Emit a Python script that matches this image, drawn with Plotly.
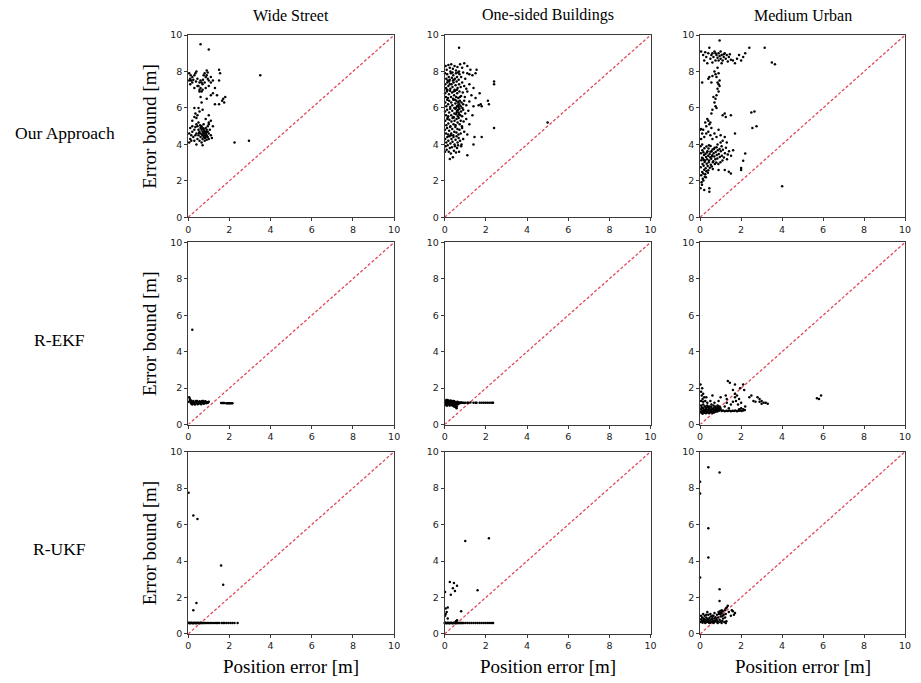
import plotly.graph_objects as go

W, H = 921, 683

col_titles = ["Wide Street", "One-sided Buildings", "Medium Urban"]
row_titles = ["Our Approach", "R-EKF", "R-UKF"]
x_title = "Position error [m]"
y_title = "Error bound [m]"
tick_vals = [0, 2, 4, 6, 8, 10]
diag = [0, 10]

# ---------------- Our Approach ----------------
ws_our = [(0.05,7.9),(0.1,7.6),(0.15,7.5),(0.1,7.3),(0.2,7.4),(0.2,7.7),(0.3,7.8),(0.35,7.9),(0.4,8.0),(0.45,7.6),
          (0.5,7.2),(0.55,7.4),(0.6,7.5),(0.6,7.1),(0.65,7.4),(0.7,7.3),(0.75,7.8),(0.8,7.9),(0.85,7.7),(0.9,7.8),
          (0.9,8.05),(0.8,7.4),(0.95,7.6),(1.0,7.5),(1.1,7.4),(1.2,7.5),(1.0,7.2),(0.7,7.0),(0.45,7.2),(0.3,7.1),
          (0.25,7.55),(0.05,7.5),(0.12,7.8),(0.55,7.0),(0.65,6.9),(0.85,7.1),(1.3,7.1),(1.5,7.5),(1.55,7.9),(1.5,8.1),
          (1.1,7.7),(0.72,7.55),(0.95,7.95),(0.38,7.45),
          (0.55,6.9),(0.6,6.6),(0.65,6.3),(0.5,6.0),(0.55,5.8),(0.45,5.6),(0.35,5.7),(0.3,5.5),(0.4,5.45),(0.7,5.9),
          (0.9,6.5),(1.1,6.7),(1.2,6.8),(1.4,6.7),(1.3,6.2),(1.5,6.2),(1.7,6.5),(1.8,6.6),(1.75,6.3),(1.65,6.4),
          (1.0,5.6),(1.1,5.3),(1.0,5.2),(0.85,5.4),(0.2,5.3),(0.3,6.0),
          (0.05,4.6),(0.1,4.9),(0.1,4.3),(0.15,4.5),(0.2,4.7),(0.25,4.4),(0.3,4.2),(0.3,4.8),(0.35,4.5),(0.4,4.0),
          (0.4,4.6),(0.45,5.0),(0.45,4.3),(0.5,4.8),(0.5,4.5),(0.55,4.7),(0.55,4.2),(0.6,4.9),(0.6,4.6),(0.6,4.4),
          (0.65,4.8),(0.65,5.0),(0.65,4.1),(0.7,4.7),(0.7,4.5),(0.7,4.3),(0.7,3.95),(0.75,4.85),(0.75,4.6),(0.75,4.4),
          (0.75,5.1),(0.8,4.7),(0.8,4.5),(0.8,4.2),(0.85,4.9),(0.85,4.6),(0.85,4.4),(0.9,4.8),(0.9,4.5),(0.9,4.25),
          (0.95,4.7),(0.95,4.4),(1.0,4.6),(1.0,4.3),(1.05,4.8),(1.1,4.5),(1.15,4.35),(1.2,5.0),(0.5,5.2),(0.58,5.05),
          (0.62,4.95),(0.68,4.55),(0.78,4.75),(0.82,4.35),(0.72,4.88),(0.52,4.62),(0.88,4.68),(0.2,5.0),(0.15,4.2),
          (0.35,4.95),(0.95,5.0),(1.0,5.1),(0.4,5.1),(0.05,4.1),
          (0.6,9.5),(1.0,9.2),(3.5,7.8),(2.25,4.1),(2.95,4.2)]

osb_our = [(0.05,8.3),(0.1,8.1),(0.18,8.35),(0.25,8.2),(0.32,8.4),(0.4,8.15),(0.48,8.3),(0.55,8.05),(0.62,8.25),(0.75,8.4),
           (0.85,8.2),(0.95,8.45),(1.1,8.3),(1.25,8.1),(1.55,8.1),(0.7,8.0),(0.28,8.0),
           (0.02,7.9),(0.08,7.6),(0.12,7.85),(0.2,7.7),(0.25,7.55),(0.3,7.9),(0.35,7.65),(0.42,7.8),(0.5,7.6),(0.55,7.9),
           (0.6,7.7),(0.68,7.55),(0.72,7.85),(0.8,7.7),(0.9,7.95),(1.0,7.6),(1.1,7.9),(1.2,7.85),(1.35,7.8),(1.5,7.9),
           (0.15,7.5),(0.45,7.55),(0.38,7.95),(0.65,7.95),
           (0.03,7.3),(0.07,7.1),(0.13,7.4),(0.18,7.2),(0.22,7.45),(0.28,7.05),(0.33,7.3),(0.38,7.15),(0.43,7.4),(0.48,7.0),
           (0.53,7.25),(0.58,7.45),(0.63,7.1),(0.7,7.3),(0.78,7.15),(0.85,7.4),(0.95,7.2),(1.05,7.05),(1.2,7.3),(1.4,7.1),
           (0.1,7.0),(0.25,7.3),(0.4,7.5),(0.6,7.0),(2.4,7.3),(2.4,7.45),
           (0.02,6.8),(0.06,6.6),(0.11,6.9),(0.16,6.55),(0.21,6.75),(0.26,6.95),(0.31,6.6),(0.36,6.85),(0.41,6.5),(0.46,6.7),
           (0.51,6.95),(0.56,6.6),(0.61,6.8),(0.66,6.55),(0.72,6.9),(0.8,6.65),(0.88,6.85),(0.98,6.6),(1.1,6.9),(1.3,6.7),
           (1.5,6.55),(1.7,6.8),(0.14,6.98),(0.44,6.9),(0.74,6.6),
           (0.03,6.3),(0.08,6.1),(0.12,6.45),(0.17,6.2),(0.22,6.4),(0.27,6.05),(0.32,6.3),(0.37,6.15),(0.42,6.45),(0.47,6.0),
           (0.52,6.25),(0.57,6.4),(0.6,6.1),(0.64,6.3),(0.68,6.05),(0.71,6.2),(0.74,6.4),(0.78,6.1),(0.82,6.3),(0.86,6.0),
           (0.9,6.2),(0.95,6.4),(1.05,6.15),(1.2,6.35),(1.4,6.1),(1.65,6.15),(1.75,6.2),(1.8,6.1),(2.1,6.4),(2.15,6.2),
           (0.55,6.0),(0.66,6.15),(0.7,6.35),(0.5,6.45),
           (0.02,5.8),(0.07,5.6),(0.12,5.9),(0.17,5.55),(0.22,5.75),(0.27,5.95),(0.32,5.6),(0.37,5.85),(0.42,5.5),(0.47,5.7),
           (0.52,5.95),(0.56,5.65),(0.6,5.85),(0.64,5.55),(0.68,5.75),(0.72,5.95),(0.76,5.6),(0.8,5.8),(0.85,5.55),(0.9,5.9),
           (1.0,5.7),(1.15,5.85),(1.35,5.6),(0.58,5.75),(0.66,5.9),(0.7,5.65),
           (0.03,5.3),(0.08,5.05),(0.13,5.4),(0.18,5.15),(0.23,5.35),(0.28,5.0),(0.33,5.25),(0.38,5.45),(0.43,5.1),(0.48,5.3),
           (0.53,5.05),(0.58,5.4),(0.63,5.2),(0.68,5.45),(0.73,5.1),(0.78,5.3),(0.84,5.0),(0.92,5.25),(1.05,5.4),(1.2,5.1),
           (0.15,5.48),(0.45,5.48),
           (0.02,4.8),(0.07,4.6),(0.12,4.9),(0.17,4.55),(0.22,4.75),(0.27,4.95),(0.32,4.6),(0.37,4.85),(0.42,4.5),(0.47,4.7),
           (0.52,4.95),(0.57,4.65),(0.62,4.85),(0.67,4.55),(0.72,4.8),(0.78,4.6),(0.85,4.9),(0.95,4.7),(1.1,4.55),(2.4,4.9),
           (0.3,4.5),
           (0.03,4.3),(0.08,4.1),(0.13,4.4),(0.18,4.2),(0.23,4.45),(0.28,4.05),(0.33,4.3),(0.38,4.15),(0.43,4.4),(0.48,4.0),
           (0.53,4.25),(0.58,4.45),(0.63,4.1),(0.68,4.35),(0.75,4.2),(0.82,4.0),(0.9,4.3),(1.8,4.4),(1.4,4.0),(1.45,4.4),
           (0.05,3.9),(0.1,3.7),(0.15,3.95),(0.2,3.6),(0.25,3.8),(0.3,3.5),(0.35,3.85),(0.4,3.3),(0.45,3.65),(0.5,3.9),
           (0.55,3.55),(0.6,3.8),(0.7,3.6),(0.8,3.9),(1.1,3.4),(0.25,3.2),(0.02,3.6),(0.65,3.95),
           (0.7,9.3),(5.0,5.2)]

mu_our = [(0.05,9.1),(0.15,8.9),(0.2,8.6),(0.3,8.8),(0.4,9.0),(0.45,9.3),(0.5,8.7),(0.55,8.9),(0.6,9.0),(0.65,8.8),
          (0.7,9.1),(0.75,8.6),(0.8,8.9),(0.85,8.75),(0.9,9.0),(0.95,8.85),(1.0,8.7),(1.0,9.1),(1.05,8.9),(1.1,8.6),
          (1.15,8.8),(1.2,9.0),(1.25,8.7),(1.3,8.9),(1.35,8.55),(1.4,8.8),(1.5,8.65),(1.6,8.6),(1.8,8.7),(1.9,8.9),
          (2.0,8.6),(2.1,8.8),(2.2,9.0),(0.95,9.7),(2.4,9.3),(3.15,9.3),(3.5,8.5),(3.65,8.4),(0.75,9.0),(1.15,8.95),
          (0.9,8.6),(1.45,8.95),(0.35,8.45),(0.6,8.5),(1.05,8.45),(1.7,8.45),(0.25,9.05),
          (0.1,7.4),(0.4,7.6),(0.45,7.7),(0.55,7.4),(0.6,7.75),(0.7,8.0),(0.75,7.85),(0.8,7.7),(0.85,7.4),(0.9,7.3),
          (0.95,7.2),(0.85,7.05),(0.9,6.9),(0.8,6.7),(0.75,6.5),(0.7,6.3),(0.75,6.1),(0.6,5.9),(0.55,5.7),(0.65,6.6),
          (0.8,6.0),(0.85,8.2),(0.95,7.5),(0.9,7.9),
          (0.0,4.8),(0.05,4.85),(0.1,4.6),(0.15,4.8),(0.05,4.3),(0.1,4.0),(0.2,4.4),(0.25,5.2),(0.3,5.0),(0.35,5.4),
          (0.4,5.3),(0.45,5.1),(0.5,5.2),(0.3,4.6),(0.4,4.7),(0.5,4.5),(0.55,4.9),(0.6,4.3),(0.7,4.6),(0.8,4.4),
          (0.9,4.8),(1.0,4.5),(1.1,4.2),(1.2,4.4),(1.3,4.1),(1.0,4.1),(0.85,4.0),(1.5,5.6),(1.2,5.7),(1.25,5.5),
          (1.1,5.6),(1.7,4.6),
          (0.02,3.9),(0.04,3.52),(0.06,3.13),(0.03,2.74),(0.05,2.31),(0.07,1.93),(0.11,3.68),(0.09,3.27),(0.12,2.92),(0.1,2.48),
          (0.13,2.12),(0.09,1.78),(0.16,3.57),(0.14,3.22),(0.17,2.83),(0.15,2.41),(0.16,2.02),(0.21,3.79),(0.19,3.42),(0.22,3.03),
          (0.2,2.61),(0.23,2.22),(0.26,3.48),(0.24,3.12),(0.27,2.69),(0.25,2.36),(0.31,3.88),(0.29,3.31),(0.32,2.94),(0.3,2.53),
          (0.36,3.62),(0.34,3.18),(0.37,2.81),(0.41,3.77),(0.39,3.38),(0.42,3.02),(0.4,2.58),(0.46,3.47),(0.44,3.11),(0.47,2.72),
          (0.51,3.91),(0.49,3.29),(0.52,2.88),(0.56,3.63),(0.54,3.21),(0.57,2.79),(0.61,3.72),(0.59,3.41),(0.62,3.02),(0.66,3.52),
          (0.64,3.08),(0.71,3.82),(0.69,3.33),(0.72,2.92),(0.76,3.58),(0.74,3.19),(0.81,3.42),(0.79,3.01),(0.86,3.68),(0.84,3.22),
          (0.91,3.48),(0.89,2.93),(0.96,3.31),(1.01,3.62),(0.99,3.02),(1.06,3.38),(1.11,3.71),(1.09,3.12),(1.16,3.28),(1.21,3.52),
          (1.26,3.82),(1.31,3.18),(1.41,3.62),(1.51,3.38),(1.61,3.68),(1.2,2.6),(1.4,2.5),(1.5,2.4),(0.9,2.6),(2.0,2.7),
          (2.0,2.6),(2.1,3.1),(2.2,3.5),(0.45,1.6),(0.45,1.4),(0.2,1.5),(0.02,1.6),(0.33,3.55),(0.58,3.35),(0.28,2.2),
          (0.5,3.6),(0.67,3.75),(0.43,3.95),(0.8,3.85),(1.05,3.9),(0.18,3.15),(0.38,2.45),(0.62,2.65),(0.95,3.75),(1.35,3.45),
          (2.5,5.75),(2.65,5.8),(2.55,4.9),(2.75,5.0),(4.0,1.7)]

# ---------------- R-EKF ----------------
ws_ekf = [(0.02,1.25),(0.05,1.5),(0.08,1.4),(0.1,1.3),(0.12,1.2),(0.15,1.15),(0.18,1.25),(0.2,1.1),(0.22,1.2),(0.25,1.3),
          (0.28,1.15),(0.3,1.22),(0.33,1.1),(0.36,1.25),(0.4,1.18),(0.43,1.3),(0.46,1.12),(0.5,1.24),(0.53,1.16),(0.56,1.28),
          (0.6,1.2),(0.63,1.12),(0.66,1.25),(0.7,1.18),(0.73,1.3),(0.76,1.15),(0.8,1.22),(0.84,1.28),(0.88,1.17),(0.92,1.23),
          (0.96,1.2),(1.0,1.26),(0.14,1.32),(0.26,1.2),(0.38,1.3),(0.48,1.15),(0.58,1.22),(0.68,1.3),(0.78,1.25),
          (1.6,1.18),(1.65,1.18),(1.7,1.18),(1.75,1.18),(1.85,1.17),(1.9,1.17),(1.95,1.17),(2.0,1.17),(2.05,1.17),(2.1,1.17),
          (2.15,1.17),(0.2,5.2)]

osb_ekf = [(0.02,1.2),(0.04,1.3),(0.05,1.1),(0.07,1.25),(0.08,1.35),(0.1,1.15),(0.12,1.28),(0.13,1.05),(0.15,1.2),(0.17,1.32),
           (0.18,1.1),(0.2,1.24),(0.22,1.16),(0.23,1.3),(0.25,1.05),(0.27,1.2),(0.28,1.12),(0.3,1.27),(0.32,1.18),(0.34,1.08),
           (0.35,1.3),(0.37,1.22),(0.39,1.14),(0.4,1.25),(0.42,1.05),(0.44,1.18),(0.46,1.28),(0.47,1.1),(0.49,1.2),(0.5,1.02),
           (0.52,1.24),(0.54,1.15),(0.55,0.95),(0.57,1.22),(0.58,0.9),(0.6,1.18),(0.62,1.26),(0.63,1.1),(0.65,1.2),(0.68,1.15),
           (0.7,1.22),(0.72,1.18),(0.75,1.2),(0.78,1.19),(0.8,1.21),(0.03,1.15),(0.09,1.05),(0.14,1.35),(0.19,1.18),(0.24,1.22),
           (0.29,1.33),(0.33,1.2),(0.38,1.05),(0.43,1.3),(0.48,1.17),(0.53,1.08),(0.59,1.0),(0.45,1.0),(0.52,0.98),
           (0.85,1.2),(0.9,1.2),(0.95,1.19),(1.0,1.2),(1.1,1.2),(1.15,1.2),(1.25,1.21),(1.4,1.2),(1.5,1.2),(1.55,1.2),
           (1.7,1.2),(1.8,1.2),(1.9,1.2),(2.0,1.2),(2.1,1.2),(2.2,1.2),(2.3,1.2),(2.35,1.2)]

mu_ekf = [(0.02,0.7),(0.04,0.85),(0.06,0.65),(0.08,0.95),(0.1,0.75),(0.12,0.6),(0.14,0.9),(0.16,0.7),(0.18,0.8),(0.2,0.65),
          (0.22,1.0),(0.24,0.75),(0.26,0.85),(0.28,0.62),(0.3,0.92),(0.32,0.72),(0.34,0.82),(0.36,0.66),(0.38,0.96),(0.4,0.76),
          (0.42,0.86),(0.44,0.63),(0.46,0.9),(0.48,0.7),(0.5,0.8),(0.52,0.68),(0.54,0.98),(0.56,0.74),(0.58,0.84),(0.6,0.64),
          (0.62,0.88),(0.64,0.72),(0.66,0.8),(0.68,0.66),(0.7,0.94),(0.72,0.76),(0.74,0.84),(0.76,0.7),(0.78,0.9),(0.8,0.78),
          (0.82,0.86),(0.84,0.72),(0.86,0.96),(0.88,0.8),(0.9,0.9),(0.92,0.76),(0.94,1.0),(0.96,0.82),(0.98,0.92),(1.0,0.85),
          (0.05,1.05),(0.15,1.1),(0.25,1.0),(0.35,1.05),(0.45,1.0),(0.55,1.1),(0.65,1.05),(0.75,1.0),(0.85,1.05),
          (0.02,2.2),(0.05,1.8),(0.08,1.6),(0.1,2.0),(0.12,1.4),(0.15,1.7),(0.2,1.5),(0.25,1.3),(0.3,1.5),(0.35,1.2),
          (0.5,1.3),(0.6,1.6),(0.7,1.2),(0.9,1.3),(1.0,1.5),(0.05,1.3),(0.15,1.25),
          (1.05,0.75),(1.12,0.78),(1.2,0.74),(1.28,0.76),(1.35,0.75),(1.42,0.78),(1.5,0.74),(1.58,0.76),(1.65,0.75),(1.72,0.77),
          (1.8,0.74),(1.88,0.76),(1.95,0.78),(2.02,0.75),(2.1,0.77),(2.18,0.8),(1.9,0.85),(2.0,0.9),(2.1,0.85),
          (1.35,2.4),(1.45,2.3),(1.3,1.4),(1.3,1.2),(1.25,1.6),(1.2,1.0),(1.4,0.9),(1.6,1.9),(1.7,2.2),(1.7,1.7),
          (1.7,1.5),(1.8,1.6),(1.75,1.3),(1.85,1.1),(1.95,2.0),(2.1,2.2),(2.15,1.9),(1.9,1.4),(1.5,1.1),(1.6,1.25),
          (2.0,1.2),(2.2,1.0),
          (2.4,1.5),(2.5,1.6),(2.6,1.3),(2.7,1.25),(2.8,1.5),(2.9,1.4),(3.0,1.3),(3.1,1.2),(3.2,1.2),(3.3,1.15),
          (3.0,1.15),(2.9,1.25),
          (5.7,1.45),(5.8,1.4),(5.9,1.6)]

# ---------------- R-UKF ----------------
ws_ukf = [(0.0,0.6),(0.03,0.61),(0.06,0.6),(0.09,0.59),(0.12,0.6),(0.15,0.61),(0.18,0.6),(0.21,0.6),(0.24,0.59),(0.27,0.6),
          (0.3,0.61),(0.33,0.6),(0.36,0.6),(0.39,0.59),(0.42,0.6),(0.45,0.61),(0.48,0.6),(0.51,0.6),(0.54,0.59),(0.57,0.6),
          (0.6,0.61),(0.63,0.6),(0.66,0.6),(0.7,0.6),(0.74,0.6),(0.78,0.6),(0.85,0.6),(0.92,0.6),(1.0,0.6),(1.08,0.6),
          (1.15,0.6),(1.25,0.6),(1.35,0.6),(1.42,0.6),(1.5,0.6),(1.62,0.6),(1.7,0.6),(1.75,0.6),(1.85,0.6),(1.95,0.6),
          (2.05,0.6),(2.15,0.6),(2.25,0.6),(2.4,0.6),
          (0.02,7.75),(0.25,6.5),(0.45,6.3),(1.6,3.75),(1.7,2.7),(0.4,1.7),(0.25,1.3)]

osb_ukf = [(0.0,0.6),(0.03,0.61),(0.06,0.6),(0.09,0.59),(0.12,0.6),(0.15,0.61),(0.18,0.6),(0.21,0.6),(0.24,0.59),(0.27,0.6),
           (0.3,0.61),(0.33,0.6),(0.36,0.6),(0.39,0.59),(0.42,0.6),(0.45,0.61),(0.48,0.6),(0.51,0.6),(0.54,0.59),(0.57,0.6),
           (0.6,0.61),(0.63,0.6),(0.66,0.6),(0.7,0.6),(0.74,0.6),(0.78,0.6),(0.82,0.6),(0.86,0.6),(0.9,0.6),(1.0,0.6),
           (1.1,0.6),(1.2,0.6),(1.3,0.6),(1.4,0.6),(1.5,0.6),(1.6,0.6),(1.7,0.6),(1.8,0.6),(1.9,0.6),(2.0,0.6),
           (2.1,0.6),(2.2,0.6),(2.3,0.6),(2.35,0.6),
           (1.0,5.1),(2.15,5.25),(0.25,2.85),(0.45,2.8),(0.6,2.65),(0.4,2.5),(0.5,2.35),(0.3,2.15),(1.6,2.4),(0.02,2.3),
           (0.15,1.45),(0.05,1.4),(0.1,1.2),(0.05,1.1),(0.15,0.85),(0.8,1.25),(0.55,0.7),(0.6,0.75),(0.02,1.0)]

mu_ukf = [(0.02,0.65),(0.05,0.8),(0.08,0.7),(0.1,0.9),(0.12,0.62),(0.15,0.75),(0.18,0.85),(0.2,0.68),(0.22,1.0),(0.25,0.78),
          (0.28,0.64),(0.3,0.9),(0.32,0.72),(0.35,0.82),(0.38,0.66),(0.4,1.05),(0.42,0.76),(0.45,0.88),(0.48,0.62),(0.5,0.7),
          (0.52,0.95),(0.55,0.8),(0.58,0.66),(0.6,0.86),(0.62,0.74),(0.65,1.0),(0.68,0.64),(0.7,0.84),(0.72,0.72),(0.75,0.92),
          (0.78,0.68),(0.8,0.8),(0.82,1.05),(0.85,0.7),(0.88,0.9),(0.9,0.64),(0.92,1.1),(0.95,0.78),(0.98,1.2),(1.0,0.68),
          (1.02,0.95),(1.05,1.15),(1.08,0.72),(1.1,1.25),(1.12,0.85),(1.15,1.05),(1.18,0.66),(1.2,1.3),(1.22,0.9),(1.25,1.1),
          (1.28,0.7),(1.3,1.45),(1.35,1.55),(1.25,1.4),(1.05,1.3),(1.4,1.2),(1.5,1.0),(1.55,1.3),(1.6,1.25),(1.7,1.15),
          (1.65,1.05),(0.3,1.05),(0.15,1.1),(0.05,1.0),(0.35,1.2),(0.5,1.1),(0.7,1.15),(0.6,1.0),(0.25,0.6),(0.45,0.6),
          (0.65,0.6),(0.85,0.6),(1.05,0.6),(1.25,0.6),(0.9,1.2),(1.0,1.1),(1.1,1.0),(0.97,1.25),
          (0.4,9.15),(0.95,8.85),(0.4,5.8),(0.4,4.2),(0.95,2.45),(0.95,1.8),(0.0,8.35),(0.0,7.7),(0.0,3.1)]

panels = [[ws_our, osb_our, mu_our],
          [ws_ekf, osb_ekf, mu_ekf],
          [ws_ukf, osb_ukf, mu_ukf]]

# ---------------- layout geometry (target screen pixels) ----------------
col_px = [(187, 395), (446, 654), (704, 911)]
row_px = [(35, 217), (242, 424), (451, 633)]

# vertical pixel -> paper fraction (measured rendering: ~671 px tall plot area, 6 px offset)
def py(y):
    return 1 - (y - 6) / 671.0

def px(x):
    return x / W

fig = go.Figure()
layout = dict(width=W, height=H, margin=dict(l=0, r=0, t=0, b=0), autosize=False,
              paper_bgcolor="white", plot_bgcolor="white", showlegend=False)

axis_common = dict(range=[0, 10], tickvals=tick_vals, showgrid=False, zeroline=False,
                   showline=True, mirror=True, linecolor="#3a3a3a", linewidth=1,
                   ticks="outside", ticklen=3, tickcolor="#3a3a3a",
                   tickfont=dict(family="DejaVu Sans", size=9.5, color="#222"), fixedrange=True)

annotations = []
k = 0
for r in range(3):
    for c in range(3):
        k += 1
        xs = "x" if k == 1 else f"x{k}"
        ys = "y" if k == 1 else f"y{k}"
        xa = "xaxis" if k == 1 else f"xaxis{k}"
        ya = "yaxis" if k == 1 else f"yaxis{k}"
        x0, x1 = col_px[c]
        y0, y1 = row_px[r]
        layout[xa] = dict(axis_common, domain=[px(x0), px(x1)], anchor=ys)
        layout[ya] = dict(axis_common, domain=[py(y1), py(y0)], anchor=xs)
        pts = panels[r][c]
        fig.add_trace(go.Scatter(x=diag, y=diag, mode="lines", xaxis=xs, yaxis=ys,
                                 line=dict(color="#e0485a", width=1.3, dash="3px,2px"), hoverinfo="skip"))
        fig.add_trace(go.Scatter(x=[p[0] for p in pts], y=[p[1] for p in pts], mode="markers",
                                 xaxis=xs, yaxis=ys, marker=dict(color="black", size=2.5),
                                 cliponaxis=False))

serif = "Liberation Serif"
for c in range(3):
    cx = (col_px[c][0] + col_px[c][1]) / 2
    annotations.append(dict(text=col_titles[c], x=px(cx), y=py(15), xref="paper", yref="paper",
                            xanchor="center", yanchor="middle",
                            showarrow=False, font=dict(family=serif, size=16, color="black")))
    annotations.append(dict(text=x_title, x=px(cx), y=py(666), xref="paper", yref="paper",
                            xanchor="center", yanchor="middle",
                            showarrow=False, font=dict(family=serif, size=19, color="black")))
row_label_pos = [(63, 133), (57, 340), (57, 548)]
for r in range(3):
    cy = (row_px[r][0] + row_px[r][1]) / 2
    annotations.append(dict(text=y_title, x=px(148), y=py(cy), xref="paper", yref="paper",
                            xanchor="center", yanchor="middle",
                            textangle=-90, showarrow=False, font=dict(family=serif, size=19, color="black")))
    lx, ly = row_label_pos[r]
    annotations.append(dict(text=row_titles[r], x=px(lx), y=py(ly), xref="paper", yref="paper",
                            xanchor="center", yanchor="middle",
                            showarrow=False, font=dict(family=serif, size=17.5, color="black")))

layout["annotations"] = annotations
fig.update_layout(**layout)
fig.write_html("out.html", config={"displayModeBar": False},
               post_script="document.body.style.margin='0px';document.body.style.overflow='hidden';")
